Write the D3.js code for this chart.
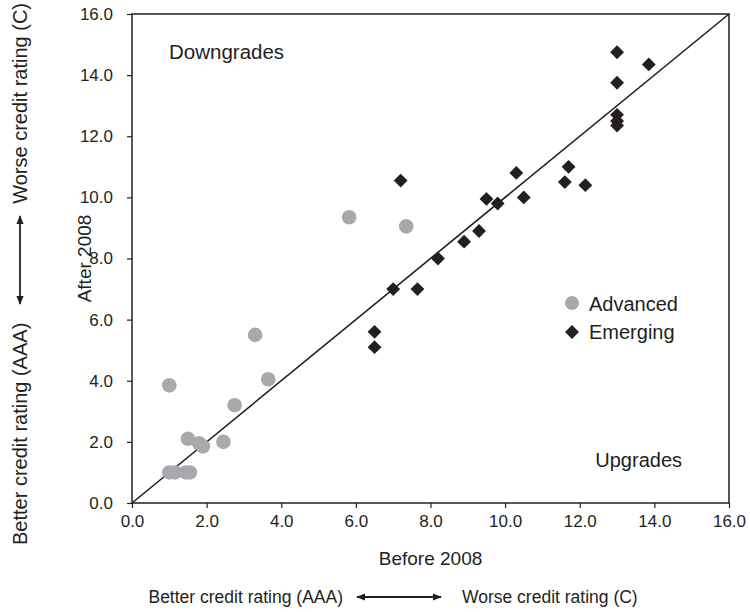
<!DOCTYPE html>
<html>
<head>
<meta charset="utf-8">
<script src="https://cdn.jsdelivr.net/npm/d3@7"></script>
<style>
  html, body { margin: 0; padding: 0; background: #fff; }
  svg text { font-family: "Liberation Sans", Arial, Helvetica, sans-serif; fill: #231f20; }
</style>
</head>
<body>
<svg id="chart" width="750" height="612"></svg>
<script>
// Sovereign credit ratings on a numeric scale (1 = AAA ... higher = worse)
const advancedBefore = [1.0, 1.15, 1.45, 1.55, 1.5, 1.8, 1.9, 2.45, 2.75, 3.3, 3.65, 1.0, 5.82, 7.35];
const advancedAfter  = [1.0, 1.0, 1.0, 1.0, 2.1, 1.95, 1.85, 2.0, 3.2, 5.5, 4.05, 3.85, 9.35, 9.05];

const emergingBefore = [6.5, 6.5, 7.0, 7.65, 8.2, 8.9, 9.3, 9.5, 9.8, 10.5, 10.3, 7.2, 11.6, 11.7, 12.15, 13.0, 13.0, 13.0, 13.0, 13.0, 13.85];
const emergingAfter  = [5.1, 5.6, 7.0, 7.0, 8.0, 8.55, 8.9, 9.95, 9.8, 10.0, 10.8, 10.55, 10.5, 11.0, 10.4, 12.35, 12.5, 12.7, 13.75, 14.75, 14.35];

const xTicks = [0, 2, 4, 6, 8, 10, 12, 14, 16];
const yTicks = [0, 2, 4, 6, 8, 10, 12, 14, 16];
const legendLabels = ["Advanced", "Emerging"];

const ink = "#231f20";
const grey = "#a7a9ac";

const svg = d3.select("#chart");
const margin = { left: 132, top: 14, right: 21, bottom: 109 };
const W = 750 - margin.left - margin.right;
const H = 612 - margin.top - margin.bottom;

const x = d3.scaleLinear().domain([0, 16]).range([margin.left, margin.left + W]);
const y = d3.scaleLinear().domain([0, 16]).range([margin.top + H, margin.top]);

// Axes
const xAxis = d3.axisBottom(x).tickValues(xTicks).tickFormat(d3.format(".1f")).tickSizeOuter(0).tickSize(5).tickPadding(7);
const yAxis = d3.axisLeft(y).tickValues(yTicks).tickFormat(d3.format(".1f")).tickSizeOuter(0).tickSize(5).tickPadding(14);

const gx = svg.append("g").attr("transform", `translate(0,${y(0)})`).call(xAxis);
const gy = svg.append("g").attr("transform", `translate(${x(0)},0)`).call(yAxis);
[gx, gy].forEach(g => {
  g.selectAll(".domain").remove();
  g.selectAll(".tick line").attr("stroke", ink).attr("stroke-width", 1.2);
  g.selectAll(".tick text").attr("font-size", 17).style("fill", ink);
});

// Plot frame
svg.append("rect")
  .attr("x", x(0)).attr("y", y(16))
  .attr("width", x(16) - x(0)).attr("height", y(0) - y(16))
  .attr("fill", "none").attr("stroke", ink).attr("stroke-width", 1.5);

// 45-degree reference line: no change in rating
svg.append("line")
  .attr("x1", x(0)).attr("y1", y(0)).attr("x2", x(16)).attr("y2", y(16))
  .attr("stroke", ink).attr("stroke-width", 1.6);

// Advanced economies
svg.append("g").selectAll("circle")
  .data(advancedBefore.map((b, i) => [b, advancedAfter[i]]))
  .join("circle")
  .attr("cx", d => x(d[0])).attr("cy", d => y(d[1]))
  .attr("r", 7.3).attr("fill", grey);

// Emerging economies
const diamond = d3.symbol().type(d3.symbolSquare).size(96);
svg.append("g").selectAll("path")
  .data(emergingBefore.map((b, i) => [b, emergingAfter[i]]))
  .join("path")
  .attr("d", diamond)
  .attr("transform", d => `translate(${x(d[0])},${y(d[1])}) rotate(45)`)
  .attr("fill", ink);

// Region annotations
svg.append("text").attr("x", 169).attr("y", 59).attr("font-size", 20.5).text("Downgrades");
svg.append("text").attr("x", 682).attr("y", 467).attr("font-size", 20).attr("text-anchor", "end").text("Upgrades");

// Legend
const lg = svg.append("g").attr("transform", "translate(572,303)");
lg.append("circle").attr("cx", 0).attr("cy", 0).attr("r", 7).attr("fill", grey);
lg.append("path").attr("d", d3.symbol().type(d3.symbolSquare).size(96)())
  .attr("transform", "translate(0,29) rotate(45)").attr("fill", ink);
lg.append("text").attr("x", 17).attr("y", 8).attr("font-size", 20).text(legendLabels[0]);
lg.append("text").attr("x", 17).attr("y", 36).attr("font-size", 20).text(legendLabels[1]);

// Axis titles
svg.append("text").attr("x", x(8)).attr("y", 565).attr("text-anchor", "middle").attr("font-size", 19).text("Before 2008");
svg.append("text").attr("transform", `translate(91,${y(8)}) rotate(-90)`).attr("text-anchor", "middle").attr("font-size", 19).text("After 2008");

// Double-headed arrow markers
const defs = svg.append("defs");
["start", "end"].forEach(k => {
  defs.append("marker").attr("id", "arr-" + k)
    .attr("viewBox", "0 0 10 10").attr("refX", k === "end" ? 9 : 1).attr("refY", 5)
    .attr("markerWidth", 9).attr("markerHeight", 9).attr("markerUnits", "userSpaceOnUse")
    .attr("orient", "auto")
    .append("path")
    .attr("d", k === "end" ? "M0,1 L10,5 L0,9 Z" : "M10,1 L0,5 L10,9 Z")
    .attr("fill", ink);
});

// Horizontal guide under the x-axis
svg.append("text").attr("x", 343).attr("y", 603).attr("text-anchor", "end").attr("font-size", 17.5).text("Better credit rating (AAA)");
svg.append("line").attr("x1", 357).attr("y1", 597).attr("x2", 441).attr("y2", 597)
  .attr("stroke", ink).attr("stroke-width", 1.8)
  .attr("marker-start", "url(#arr-start)").attr("marker-end", "url(#arr-end)");
svg.append("text").attr("x", 462).attr("y", 603).attr("font-size", 17.5).text("Worse credit rating (C)");

// Vertical guide left of the y-axis
svg.append("text").attr("transform", "translate(27,3) rotate(-90)").attr("text-anchor", "end").attr("font-size", 20).text("Worse credit rating (C)");
svg.append("line").attr("x1", 20).attr("y1", 216).attr("x2", 20).attr("y2", 304)
  .attr("stroke", ink).attr("stroke-width", 1.8)
  .attr("marker-start", "url(#arr-start)").attr("marker-end", "url(#arr-end)");
svg.append("text").attr("transform", "translate(27,545) rotate(-90)").attr("text-anchor", "start").attr("font-size", 20).text("Better credit rating (AAA)");
</script>
</body>
</html>
